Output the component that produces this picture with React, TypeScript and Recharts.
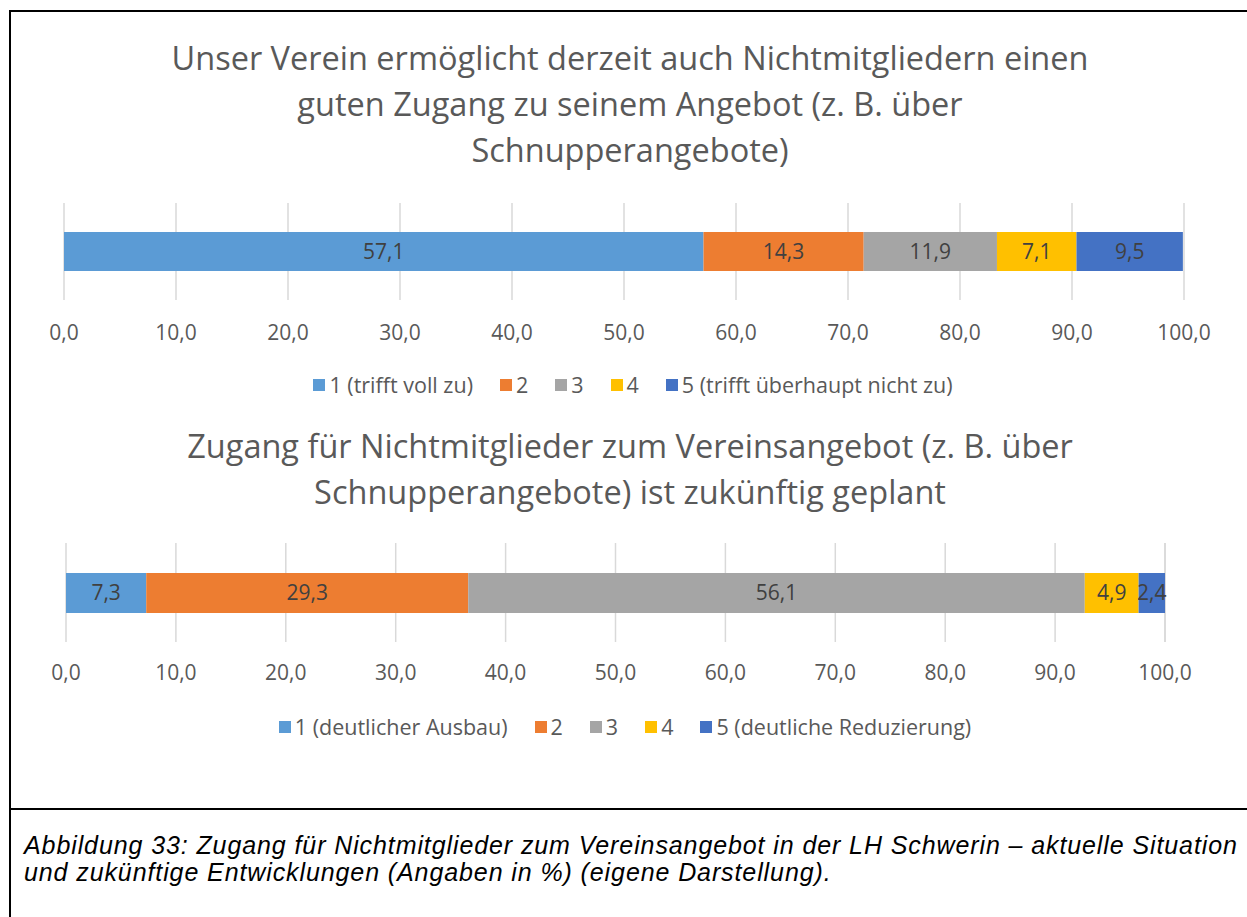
import React from 'react';
import { BarChart, Bar, XAxis, YAxis, CartesianGrid, LabelList } from 'recharts';

const TITLE_1 = [
  'Unser Verein ermöglicht derzeit auch Nichtmitgliedern einen',
  'guten Zugang zu seinem Angebot (z. B. über',
  'Schnupperangebote)',
];
const TITLE_2 = [
  'Zugang für Nichtmitglieder zum Vereinsangebot (z. B. über',
  'Schnupperangebote) ist zukünftig geplant',
];

const SERIES_1 = ['1 (trifft voll zu)', '2', '3', '4', '5 (trifft überhaupt nicht zu)'];
const SERIES_2 = ['1 (deutlicher Ausbau)', '2', '3', '4', '5 (deutliche Reduzierung)'];
const VALUES_1 = [57.1, 14.3, 11.9, 7.1, 9.5];
const VALUES_2 = [7.3, 29.3, 56.1, 4.9, 2.4];
const TICKS = [0, 10, 20, 30, 40, 50, 60, 70, 80, 90, 100];

const COLORS = ['#5B9BD5', '#ED7D31', '#A5A5A5', '#FFC000', '#4472C4'];
const FONT = '"Open Sans", "Noto Sans", sans-serif';
const TEXT = '#595959';

const fmt = (v: number) => v.toFixed(1).replace('.', ',');

const buildRow = (values: number[]) => {
  const row: Record<string, number | string> = { name: 'row' };
  values.forEach((v, i) => {
    row[`s${i}`] = v;
  });
  return [row];
};

// legend drawn as plain html so it does not eat into the plot area
const ChartLegend = ({ names, top, center }: { names: string[]; top: number; center: number }) => (
  <div
    style={{
      position: 'absolute',
      left: 0,
      width: center * 2,
      top,
      display: 'flex',
      justifyContent: 'center',
      fontFamily: FONT,
      fontSize: 21.5,
      lineHeight: '24px',
      color: TEXT,
      whiteSpace: 'nowrap',
    }}
  >
    {names.map((n, i) => (
      <div key={n + i} style={{ display: 'flex', alignItems: 'center', marginRight: i < names.length - 1 ? 27 : 0 }}>
        <span style={{ width: 12, height: 12, background: COLORS[i], display: 'inline-block', marginRight: 4 }} />
        <span>{n}</span>
      </div>
    ))}
  </div>
);

interface StackProps {
  top: number;
  left: number;
  right: number;
  plotHeight: number;
  barSize: number;
  tickMargin: number;
  values: number[];
  names: string[];
}

const Stack = ({ top, left, right, plotHeight, barSize, tickMargin, values, names }: StackProps) => (
  <div style={{ position: 'absolute', left: 0, top }}>
    <BarChart
      width={1247}
      height={13 + plotHeight + 50}
      data={buildRow(values)}
      layout="vertical"
      margin={{ top: 13, left, right, bottom: 0 }}
      barSize={barSize}
    >
      <CartesianGrid horizontal={false} stroke="#D9D9D9" strokeWidth={1.5} />
      <XAxis
        type="number"
        domain={[0, 100]}
        ticks={TICKS}
        tickFormatter={fmt}
        axisLine={false}
        tickLine={false}
        tickSize={0}
        tickMargin={tickMargin}
        height={50}
        interval={0}
        tick={{ fill: TEXT, fontSize: 21, fontFamily: FONT }}
      />
      <YAxis type="category" dataKey="name" hide />
      {names.map((n, i) => (
        <Bar key={n} dataKey={`s${i}`} name={n} stackId="a" fill={COLORS[i]} isAnimationActive={false}>
          <LabelList
            dataKey={`s${i}`}
            position="center"
            formatter={(v: any) => fmt(Number(v))}
            style={{ fill: '#404040', fontSize: 21, fontFamily: FONT }}
          />
        </Bar>
      ))}
    </BarChart>
  </div>
);

const Title = ({ lines, top }: { lines: string[]; top: number }) => (
  <div
    style={{
      position: 'absolute',
      left: 0,
      width: 1260,
      top,
      textAlign: 'center',
      fontFamily: FONT,
      fontSize: 32.5,
      lineHeight: '46px',
      color: TEXT,
      whiteSpace: 'nowrap',
    }}
  >
    {lines.map((l, i) => (
      <div key={i}>{l}</div>
    ))}
  </div>
);

export default function App() {
  return (
    <div style={{ position: 'absolute', left: 0, top: 0, width: 1247, height: 917, background: '#fff', overflow: 'hidden' }}>
      <div style={{ position: 'absolute', left: 9, top: 10, width: 1300, height: 960, border: '2px solid #000', boxSizing: 'border-box' }} />
      <div style={{ position: 'absolute', left: 9, top: 808, width: 1300, height: 2, background: '#000' }} />
      <Title lines={TITLE_1} top={35} />
      <Stack
        top={190}
        left={64}
        right={63}
        plotHeight={97}
        barSize={39}
        tickMargin={25}
        values={VALUES_1}
        names={SERIES_1}
      />
      <ChartLegend names={SERIES_1} top={373} center={633} />
      <Title lines={TITLE_2} top={423} />
      <Stack
        top={530}
        left={66}
        right={82}
        plotHeight={99}
        barSize={40}
        tickMargin={23}
        values={VALUES_2}
        names={SERIES_2}
      />
      <ChartLegend names={SERIES_2} top={715} center={625} />
      <div
        style={{
          position: 'absolute',
          left: 24,
          top: 832,
          width: 1230,
          fontFamily: '"Liberation Sans", Arial, sans-serif',
          fontStyle: 'italic',
          fontSize: 25,
          letterSpacing: 0.9,
          lineHeight: '27px',
          color: '#000',
        }}
      >
        <div style={{ whiteSpace: 'nowrap' }}>
          Abbildung 33: Zugang für Nichtmitglieder zum Vereinsangebot in der LH Schwerin – aktuelle Situation
        </div>
        <div style={{ whiteSpace: 'nowrap' }}>und zukünftige Entwicklungen (Angaben in %) (eigene Darstellung).</div>
      </div>
    </div>
  );
}
